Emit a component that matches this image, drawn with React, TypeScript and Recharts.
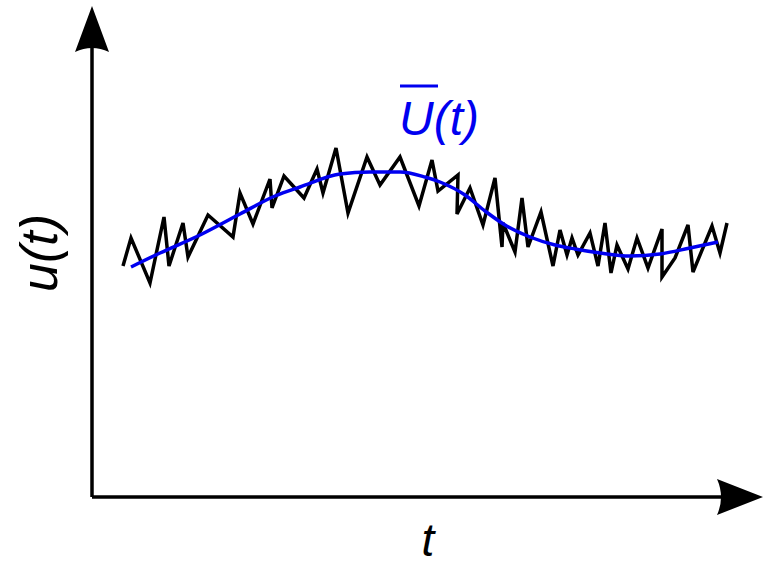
import { LineChart, Line, XAxis, YAxis, ReferenceDot, ReferenceLine, Label } from "recharts"

// noisy signal u(t): time and value
const noisyT = [31, 39, 58, 72, 77, 91, 96, 116, 141, 148, 161, 178, 180, 192, 212, 225, 231, 244, 256, 275, 288, 308, 327, 340, 346, 366, 365, 378, 391, 403, 410, 411, 423, 430, 436, 449, 461, 468, 475, 480, 486, 498, 506, 513, 519, 525, 536, 545, 556, 570, 570, 583, 596, 601, 620, 628, 635]
const noisyU = [231, 259, 214, 280, 231, 274, 240, 282, 260, 304, 273, 318, 289, 321, 299, 328, 304, 349, 284, 340, 312, 340, 291, 337, 306, 322, 283, 309, 272, 319, 250, 274, 245, 299, 250, 285, 231, 267, 242, 259, 242, 264, 231, 274, 224, 252, 228, 259, 229, 268, 220, 239, 272, 225, 271, 244, 274]

// mean curve U(t)
const meanT = [39, 68, 108, 148, 183, 208, 248, 278, 308, 333, 348, 373, 393, 413, 438, 463, 483, 508, 538, 568, 598, 626]
const meanU = [230, 244, 262, 283, 301, 310, 323, 325, 325, 320, 315, 302, 286, 272, 260, 252, 248, 244, 241, 243, 249, 255]

const noisyData = noisyT.map((t, i) => ({ t, u: noisyU[i] }))
const meanData = meanT.map((t, i) => ({ t, u: meanU[i] }))

const FONT = "'Liberation Sans', Arial, sans-serif"

function ArrowRight(props: any) {
  const { cx, cy } = props
  return (
    <path
      d={`M ${cx} ${cy} L ${cx - 46} ${cy - 18} Q ${cx - 38} ${cy} ${cx - 46} ${cy + 18} Z`}
      fill="#000"
    />
  )
}

function ArrowUp(props: any) {
  const { cx, cy } = props
  return (
    <path
      d={`M ${cx} ${cy} L ${cx - 17} ${cy + 46} Q ${cx} ${cy + 38} ${cx + 17} ${cy + 46} Z`}
      fill="#000"
    />
  )
}

export default function App() {
  return (
    <div style={{ position: "absolute", left: 0, top: 0, background: "#fff" }}>
      <LineChart
        width={764}
        height={566}
        margin={{ top: 6, right: 1, left: 92, bottom: 69 }}
      >
        <XAxis type="number" dataKey="t" domain={[0, 671]} hide />
        <YAxis type="number" dataKey="u" domain={[0, 491]} hide />
        <ReferenceLine
          segment={[{ x: 0, y: 0 }, { x: 660, y: 0 }]}
          stroke="#000"
          strokeWidth={3.5}
          ifOverflow="visible"
        >
          <Label
            content={() => (
              <text x={428} y={556} textAnchor="middle" fontFamily={FONT} fontStyle="italic" fontSize={46} fill="#000">
                t
              </text>
            )}
          />
        </ReferenceLine>
        <ReferenceLine
          segment={[{ x: 0, y: 0 }, { x: 0, y: 480 }]}
          stroke="#000"
          strokeWidth={3.5}
          ifOverflow="visible"
        >
          <Label
            content={() => (
              <text
                x={57}
                y={253}
                transform="rotate(-90 57 253)"
                textAnchor="middle"
                fontFamily={FONT}
                fontStyle="italic"
                fontSize={52}
                fill="#000"
              >
                u(t)
              </text>
            )}
          />
        </ReferenceLine>
        <Line
          data={noisyData}
          dataKey="u"
          type="linear"
          stroke="#000"
          strokeWidth={3.5}
          dot={false}
          isAnimationActive={false}
        />
        <Line
          data={meanData}
          dataKey="u"
          type="monotone"
          stroke="#0000f0"
          strokeWidth={3.5}
          dot={false}
          isAnimationActive={false}
        >
          <Label
            content={() => (
              <g>
                <line x1={400} y1={86} x2={438} y2={86} stroke="#0000f0" strokeWidth={3} />
                <text x={399} y={135} fontFamily={FONT} fontStyle="italic" fontSize={48} fill="#0000f0">
                  U(t)
                </text>
              </g>
            )}
          />
        </Line>
        <ReferenceDot x={671} y={0} r={0} shape={<ArrowRight />} ifOverflow="visible" />
        <ReferenceDot x={0} y={491} r={0} shape={<ArrowUp />} ifOverflow="visible" />
      </LineChart>
    </div>
  )
}
